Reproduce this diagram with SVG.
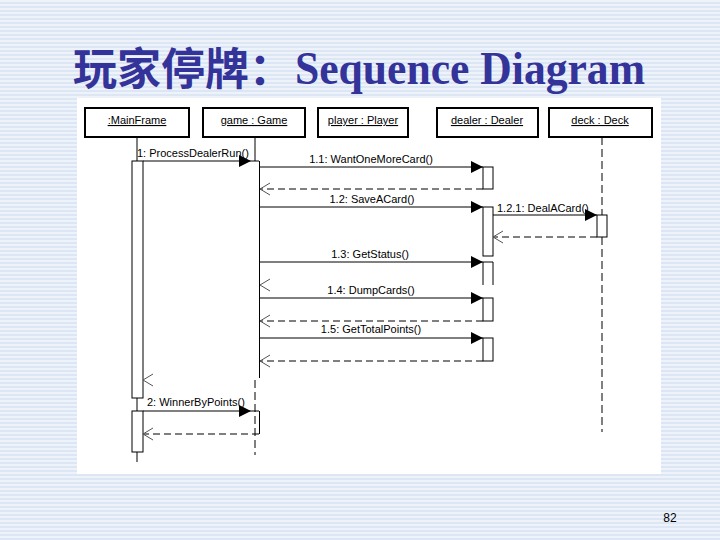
<svg xmlns="http://www.w3.org/2000/svg" width="720" height="540" viewBox="0 0 720 540">
<defs>
<pattern id="stripes" x="0" y="0" width="8" height="4" patternUnits="userSpaceOnUse">
<rect width="8" height="4" fill="#eef3fa"/>
<rect y="2" width="8" height="2" fill="#dce6f4"/>
</pattern>
<marker id="filled" markerWidth="12" markerHeight="12" refX="12" refY="6" orient="auto" markerUnits="userSpaceOnUse">
<path d="M0,0 L12,6 L0,12 Z" fill="#000"/>
</marker>
</defs>
<style>
.box{fill:#fff;stroke:#000;stroke-width:2}
.bl{font-family:"Liberation Sans",Arial,sans-serif;font-size:11px;fill:#000;text-anchor:middle;text-decoration:underline}
.lbl{font-family:"Liberation Sans",Arial,sans-serif;font-size:11px;fill:#000}
.mid{text-anchor:middle}
.act{fill:#fff;stroke:#000;stroke-width:1}
.ln{stroke:#000;stroke-width:1;fill:none}
.life{stroke:#000;stroke-width:1;fill:none;stroke-dasharray:8,4}
.ret{stroke:#000;stroke-width:1;fill:none;stroke-dasharray:7,4}
.open{stroke:#555;stroke-width:1;fill:none}
.title{font-weight:bold;fill:#333399}
</style>
<rect width="720" height="540" fill="url(#stripes)"/>
<rect x="77" y="98" width="584" height="376" fill="#fff"/>
<text class="title" x="73" y="85" font-family="'Noto Sans CJK SC','Noto Sans CJK TC',sans-serif" font-size="44">玩家停牌：</text>
<text class="title" x="295" y="84" font-family="'Liberation Serif','Times New Roman',serif" font-size="46" textLength="350" lengthAdjust="spacingAndGlyphs">Sequence Diagram</text>
<text x="670" y="522" font-family="'Liberation Sans',Arial,sans-serif" font-size="12" fill="#000" text-anchor="middle">82</text>

<g id="node-mainframe">
<rect class="box" x="85" y="108" width="104" height="29"/>
<text class="bl" x="137" y="124">:MainFrame</text>
<line class="ln" x1="137" y1="137" x2="137" y2="161"/>
<rect class="act" x="132" y="161" width="11" height="237"/>
<line class="ln" x1="137" y1="398" x2="137" y2="411"/>
<rect class="act" x="132" y="411" width="11" height="41"/>
<line class="ln" x1="137" y1="452" x2="137" y2="462"/>
</g>
<g id="node-game">
<rect class="box" x="203" y="108" width="102" height="29"/>
<text class="bl" x="254" y="124">game : Game</text>
<line class="ln" x1="255" y1="137" x2="255" y2="161"/>
<line class="ln" x1="259.5" y1="161" x2="259.5" y2="378"/>
<line class="life" x1="255" y1="380" x2="255" y2="455"/>
<line class="ln" x1="259.5" y1="411" x2="259.5" y2="434"/>
</g>
<g id="node-player">
<rect class="box" x="318" y="108" width="90" height="29"/>
<text class="bl" x="363" y="124">player : Player</text>
</g>
<g id="node-dealer">
<rect class="box" x="437" y="108" width="101" height="29"/>
<text class="bl" x="487" y="124">dealer : Dealer</text>
<rect class="act" x="483" y="167" width="10" height="22"/>
<rect class="act" x="483" y="207" width="10" height="49"/>
<path class="ln" d="M483,262 V285 M493,262 V285 M483,262 H493"/>
<rect class="act" x="483" y="298" width="10" height="23"/>
<rect class="act" x="483" y="338" width="10" height="23"/>
</g>
<g id="node-deck">
<rect class="box" x="549" y="108" width="103" height="29"/>
<text class="bl" x="600" y="124">deck : Deck</text>
<line class="life" x1="602" y1="137" x2="602" y2="215"/>
<rect class="act" x="597" y="215" width="10" height="22"/>
<line class="life" x1="602" y1="237" x2="602" y2="432"/>
</g>

<g id="connectors">
<line class="ln" x1="143" y1="161" x2="259" y2="161"/>
<path d="M239,155 L251,161 L239,167 Z" fill="#000"/>
<text class="lbl" x="137" y="157">1: ProcessDealerRun()</text>

<line class="ln" x1="260" y1="167" x2="483" y2="167" marker-end="url(#filled)"/>
<text class="lbl mid" x="371" y="163">1.1: WantOneMoreCard()</text>
<line class="ret" x1="483" y1="189" x2="260" y2="189"/>
<path class="open" d="M270,183 L260,189 L270,195"/>

<line class="ln" x1="260" y1="207" x2="483" y2="207" marker-end="url(#filled)"/>
<text class="lbl mid" x="372" y="203">1.2: SaveACard()</text>

<line class="ln" x1="493" y1="215" x2="597" y2="215" marker-end="url(#filled)"/>
<text class="lbl" x="497" y="212">1.2.1: DealACard()</text>
<line class="ret" x1="597" y1="237" x2="493" y2="237"/>
<path class="open" d="M503,231 L493,237 L503,243"/>

<line class="ln" x1="260" y1="262" x2="483" y2="262" marker-end="url(#filled)"/>
<text class="lbl mid" x="370" y="258">1.3: GetStatus()</text>
<path class="open" d="M270,279 L260,285 L270,291"/>

<line class="ln" x1="260" y1="298" x2="483" y2="298" marker-end="url(#filled)"/>
<text class="lbl mid" x="371" y="294">1.4: DumpCards()</text>
<line class="ret" x1="483" y1="321" x2="260" y2="321"/>
<path class="open" d="M270,315 L260,321 L270,327"/>

<line class="ln" x1="260" y1="338" x2="483" y2="338" marker-end="url(#filled)"/>
<text class="lbl mid" x="371" y="333">1.5: GetTotalPoints()</text>
<line class="ret" x1="483" y1="361" x2="260" y2="361"/>
<path class="open" d="M270,355 L260,361 L270,367"/>

<path class="open" d="M153,374 L143,380 L153,386"/>

<line class="ln" x1="143" y1="411" x2="259" y2="411"/>
<path d="M239,405 L251,411 L239,417 Z" fill="#000"/>
<text class="lbl" x="147" y="406">2: WinnerByPoints()</text>
<line class="ret" x1="259" y1="434" x2="143" y2="434"/>
<path class="open" d="M153,428 L143,434 L153,440"/>
</g>
</svg>
